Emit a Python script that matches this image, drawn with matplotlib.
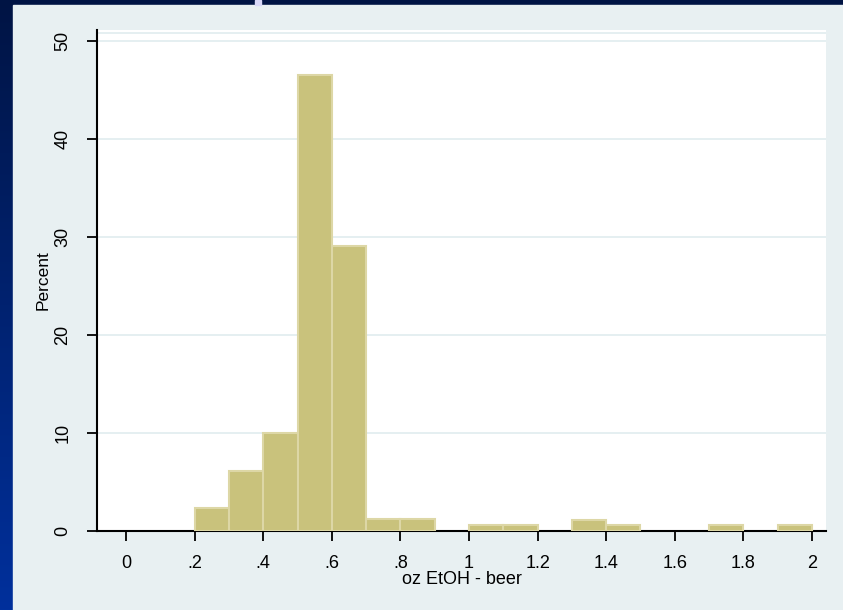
import numpy as np
import matplotlib.pyplot as plt
from matplotlib.patches import Rectangle
from matplotlib.colors import LinearSegmentedColormap

plt.rcParams['font.family'] = ['Liberation Sans', 'DejaVu Sans']

# histogram of oz EtOH per beer, bin width 0.1
bin_left = [0.2, 0.3, 0.4, 0.5, 0.6, 0.7, 0.8, 1.0, 1.1, 1.3, 1.4, 1.7, 1.9]
percent = [2.3, 6.1, 10.0, 46.5, 29.1, 1.2, 1.2, 0.6, 0.6, 1.1, 0.6, 0.6, 0.6]
bin_width = 0.1

xticks = [0, 0.2, 0.4, 0.6, 0.8, 1.0, 1.2, 1.4, 1.6, 1.8, 2.0]
xticklabels = ['0', '.2', '.4', '.6', '.8', '1', '1.2', '1.4', '1.6', '1.8', '2']
yticks = [0, 10, 20, 30, 40, 50]

fig = plt.figure(figsize=(8.43, 6.10), dpi=100)
fig.patch.set_facecolor('#001848')

# slide background: dark strip with blue gradient on the left
bg = fig.add_axes([0, 0, 1, 1], zorder=-10)
grad = np.linspace(0, 1, 256).reshape(-1, 1)
cmap = LinearSegmentedColormap.from_list('slide', ['#00309c', '#001444'])
bg.imshow(grad, cmap=cmap, aspect='auto', extent=[0, 1, 0, 1], origin='lower')
bg.add_patch(Rectangle((13 / 843, 0), 1, 1 - 5 / 610, color='#e8f0f2'))
bg.add_patch(Rectangle((255 / 843, 1 - 5 / 610), 6 / 843, 5 / 610, color='#d8d8f8'))
bg.set_xlim(0, 1)
bg.set_ylim(0, 1)
bg.axis('off')

ax = fig.add_axes([97 / 843, (610 - 531) / 610, (826 - 97) / 843, (531 - 30) / 610])
ax.set_facecolor('white')
ax.bar(bin_left, percent, width=bin_width, align='edge',
       color='#c9c27c', edgecolor='#ddd7a6', linewidth=1.5, zorder=3)

ax.set_xlim(-0.085, 2.041)
ax.set_ylim(0, 51.1)
ax.set_yticks(yticks)
ax.set_yticklabels([str(v) for v in yticks], rotation=90, va='center')
ax.set_xticks(xticks)
ax.set_xticklabels(xticklabels)
ax.tick_params(labelsize=13, length=7.5, width=1.3, color='black')
ax.tick_params(axis='x', pad=10)
ax.tick_params(axis='y', pad=11)
ax.yaxis.grid(True, color='#e3eef0', linewidth=1.3, zorder=0)
ax.axhline(51.1 - 0.3, color='#e3eef0', linewidth=1.3, zorder=0)

for s in ['top', 'right']:
    ax.spines[s].set_visible(False)
for s in ['left', 'bottom']:
    ax.spines[s].set_linewidth(1.5)

ax.set_ylabel('Percent', fontsize=12.5, labelpad=3)
ax.set_xlabel('oz EtOH - beer', fontsize=13, labelpad=-1)

fig.savefig('out.png', dpi=100, facecolor=fig.get_facecolor())
